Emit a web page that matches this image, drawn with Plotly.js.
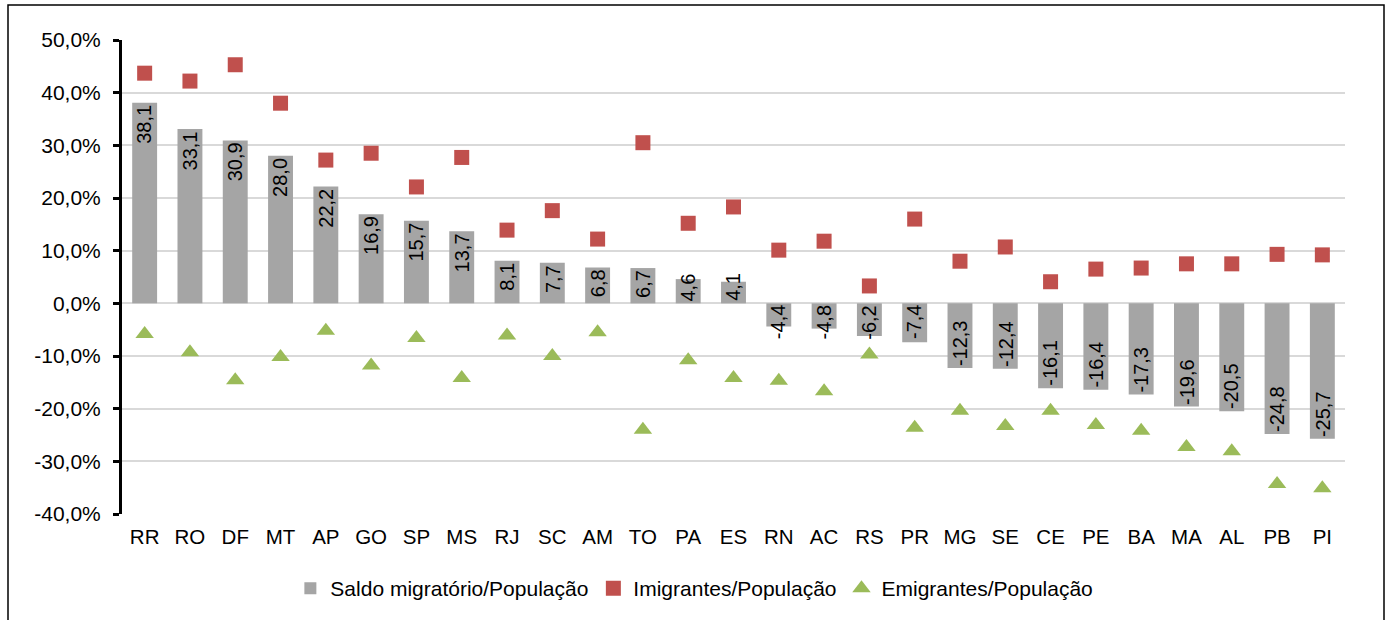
<!DOCTYPE html>
<html>
<head>
<meta charset="utf-8">
<script src="https://cdn.plot.ly/plotly-3.0.1.min.js"></script>
<style>
html,body{margin:0;padding:0;background:#fff;}
#chart{width:1388px;height:620px;}
</style>
</head>
<body>
<div id="chart"></div>
<script>
const categories = ["RR","RO","DF","MT","AP","GO","SP","MS","RJ","SC","AM","TO","PA","ES","RN","AC","RS","PR","MG","SE","CE","PE","BA","MA","AL","PB","PI"];
const saldo = [38.1,33.1,30.9,28.0,22.2,16.9,15.7,13.7,8.1,7.7,6.8,6.7,4.6,4.1,-4.4,-4.8,-6.2,-7.4,-12.3,-12.4,-16.1,-16.4,-17.3,-19.6,-20.5,-24.8,-25.7];
const imigrantes = [43.7,42.2,45.3,38.0,27.2,28.5,22.1,27.7,13.9,17.6,12.2,30.5,15.2,18.3,10.1,11.8,3.3,16.0,8.0,10.7,4.1,6.5,6.7,7.5,7.5,9.3,9.2];
const emigrantes = [-5.8,-9.3,-14.6,-10.2,-5.2,-11.8,-6.6,-14.2,-6.1,-10.0,-5.5,-24.0,-10.8,-14.2,-14.7,-16.7,-9.7,-23.6,-20.4,-23.3,-20.4,-23.1,-24.2,-27.3,-28.1,-34.3,-35.1];
const seriesNames = ["Saldo migratório/População","Imigrantes/População","Emigrantes/População"];
const yTicks = [-40,-30,-20,-10,0,10,20,30,40,50];
const yTickText = yTicks.map(v => v.toFixed(1).replace(".", ",") + "%");

const FONT = "Liberation Sans, Arial, sans-serif";
const LABEL_SIZE = 20;
const Y_RANGE = [-40, 50];
const PLOT_H = 475;

function fmt(v) { return v.toFixed(1).replace(".", ","); }
function textLenPx(s) {
  let w = 0;
  for (const ch of s) w += (ch === "," ? 0.278 : ch === "-" ? 0.333 : 0.556);
  return w * LABEL_SIZE;
}
const pxPerUnit = PLOT_H / (Y_RANGE[1] - Y_RANGE[0]);

// bar value labels (rotated, inside end; clamped to the base when they don't fit)
const barLabels = categories.map((c, i) => {
  const v = saldo[i];
  const t = fmt(v);
  const fits = Math.abs(v) * pxPerUnit >= textLenPx(t) + 6;
  const pos = v >= 0;
  return {
    x: c, y: fits ? v : 0, xref: "x", yref: "y",
    text: t, textangle: -90, showarrow: false,
    font: {family: FONT, size: LABEL_SIZE, color: "#000"},
    xanchor: "center",
    yanchor: fits ? (pos ? "top" : "bottom") : (pos ? "bottom" : "top"),
    borderpad: 1
  };
});

const traces = [
  {
    type: "bar", x: categories, y: saldo, name: seriesNames[0],
    marker: {color: "#A5A5A5"},
    width: 0.55,
    textposition: "none",
    hoverinfo: "skip"
  },
  {
    type: "scatter", mode: "markers", x: categories, y: imigrantes, name: seriesNames[1],
    marker: {symbol: "square", size: 15, color: "#C0504D"},
    hoverinfo: "skip"
  },
  {
    type: "scatter", mode: "markers", x: categories, y: emigrantes, name: seriesNames[2],
    marker: {symbol: "triangle-up", size: 16, color: "#9BBB59"},
    hoverinfo: "skip"
  }
];

const zeroPos = (0 - Y_RANGE[0]) / (Y_RANGE[1] - Y_RANGE[0]);

const layout = {
  width: 1388, height: 620,
  margin: {l: 122, r: 43, t: 40, b: 105},
  paper_bgcolor: "#fff", plot_bgcolor: "#fff",
  font: {family: FONT, size: 20, color: "#000"},
  separators: ",.",
  showlegend: true,
  xaxis: {
    type: "category", categoryarray: categories,
    range: [-0.5, categories.length - 0.5],
    showline: false, showgrid: false, zeroline: false,
    ticks: "", ticklabelstandoff: 8,
    tickfont: {family: FONT, size: 20.5, color: "#000"},
    fixedrange: true
  },
  xaxis2: {
    type: "linear", overlaying: "x", anchor: "free", position: zeroPos,
    range: [-0.5, categories.length - 0.5],
    tickvals: categories.map((c, i) => i - 0.5).concat([categories.length - 0.5]),
    showticklabels: false, showgrid: false, zeroline: false,
    showline: true, linecolor: "#000", linewidth: 3,
    ticks: "outside", ticklen: 6, tickwidth: 3, tickcolor: "#000",
    fixedrange: true
  },
  yaxis: {
    range: Y_RANGE,
    tickmode: "array",
    tickvals: yTicks,
    ticktext: yTickText,
    showgrid: true, gridcolor: "#D9D9D9", gridwidth: 2,
    zeroline: false,
    showline: true, linecolor: "#000", linewidth: 3,
    ticks: "outside", ticklen: 6, tickwidth: 3, tickcolor: "#000",
    ticklabelstandoff: 8,
    tickfont: {family: FONT, size: 21, color: "#000"},
    fixedrange: true
  },
  legend: {
    orientation: "h", x: 0.468, xanchor: "center", y: -0.155, yanchor: "middle",
    font: {family: FONT, size: 21, color: "#000"},
    itemwidth: 30, tracegroupgap: 0,
    bgcolor: "rgba(0,0,0,0)"
  },
  annotations: barLabels,
  shapes: [
    {type: "rect", xref: "paper", yref: "paper",
     x0: (8 - 122) / 1223, x1: (1384 - 122) / 1223,
     y0: (515 - 640) / 475, y1: (515 - 5) / 475,
     line: {color: "#000", width: 1.5}, fillcolor: "rgba(0,0,0,0)", layer: "below"}
  ]
};

Plotly.newPlot("chart", traces, layout, {displayModeBar: false, staticPlot: true});
</script>
</body>
</html>
